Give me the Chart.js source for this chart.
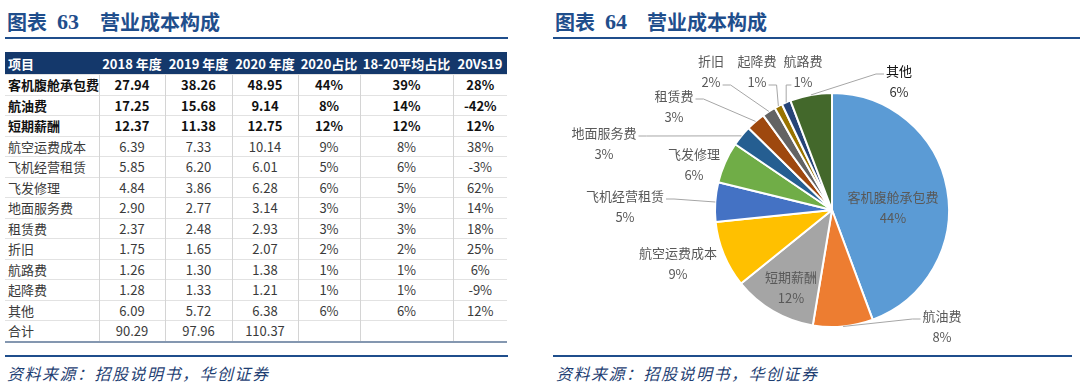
<!DOCTYPE html>
<html lang="zh-CN">
<head>
<meta charset="utf-8">
<title>营业成本构成</title>
<script src="https://cdn.jsdelivr.net/npm/chart.js@4/dist/chart.umd.min.js"></script>
<style>
  html, body { margin: 0; padding: 0; background: #fff; }
  body { width: 1080px; height: 387px; position: relative; overflow: hidden;
         font-family: "Noto Sans CJK SC", "Noto Sans", sans-serif; }
  .t { position: absolute; top: 9px; font-size: 20px; font-weight: bold; color: #1f4e8c;
       line-height: 26px; white-space: nowrap; }
  .t.num { font-family: "Liberation Serif", serif; font-size: 22px; }
  .rule { position: absolute; height: 2px; background: #1f4e8c; }
  .src { position: absolute; top: 361px; font-size: 16px; font-style: italic; color: #1f3f73;
         letter-spacing: 1.5px; line-height: 24px; white-space: nowrap; }
  table { position: absolute; left: 5px; top: 52px; border-collapse: collapse; table-layout: fixed;
          width: 502px; font-size: 13px; }
  th { background: #14386b; color: #fff; font-weight: bold; height: 22px; padding: 0;
       text-align: center; white-space: nowrap; line-height: 1; }
  td { height: 19.5px; padding: 0; text-align: center; color: #3a3a3a; white-space: nowrap;
       border-left: 1px solid #d4d4d4; border-top: 1px solid #e2e2e2; line-height: 1; }
  td:first-child, th:first-child { text-align: left; padding-left: 3px; border-left: none; }
  tr.b td { font-weight: bold; color: #111; }
  tr.last td { border-bottom: 2px solid #8497b0; }
  #pieBox { position: absolute; left: 553px; top: 42px; width: 527px; height: 310px; }
</style>
</head>
<body>

<div class="t" style="left:7px">图表</div>
<div class="t num" style="left:57px">63</div>
<div class="t" style="left:100px">营业成本构成</div>
<div class="rule" style="left:5px; width:503px; top:37px"></div>

<div class="t" style="left:555px">图表</div>
<div class="t num" style="left:605px">64</div>
<div class="t" style="left:647px">营业成本构成</div>
<div class="rule" style="left:553px; width:527px; top:37px"></div>

<table id="costTable"></table>

<div class="rule" style="left:5px; width:503px; top:355px"></div>
<div class="rule" style="left:553px; width:519px; top:355px"></div>
<div class="src" style="left:7px">资料来源：招股说明书，华创证券</div>
<div class="src" style="left:556px">资料来源：招股说明书，华创证券</div>

<div id="pieBox"><canvas id="pie"></canvas></div>

<script>
// ---- 表格数据 -----------------------------------------------------------
const headers   = ['项目', '2018 年度', '2019 年度', '2020 年度', '2020占比', '18-20平均占比', '20Vs19'];
const items     = ['客机腹舱承包费', '航油费', '短期薪酬', '航空运费成本', '飞机经营租赁', '飞发修理',
                   '地面服务费', '租赁费', '折旧', '航路费', '起降费', '其他', '合计'];
const cost2018  = ['27.94', '17.25', '12.37', '6.39', '5.85', '4.84', '2.90', '2.37', '1.75', '1.26', '1.28', '6.09', '90.29'];
const cost2019  = ['38.26', '15.68', '11.38', '7.33', '6.20', '3.86', '2.77', '2.48', '1.65', '1.30', '1.33', '5.72', '97.96'];
const cost2020  = ['48.95', '9.14', '12.75', '10.14', '6.01', '6.28', '3.14', '2.93', '2.07', '1.38', '1.21', '6.38', '110.37'];
const share2020 = ['44%', '8%', '12%', '9%', '5%', '6%', '3%', '3%', '2%', '1%', '1%', '6%', ''];
const shareAvg  = ['39%', '14%', '12%', '8%', '6%', '5%', '3%', '3%', '2%', '1%', '1%', '6%', ''];
const yoy       = ['28%', '-42%', '12%', '38%', '-3%', '62%', '14%', '18%', '25%', '6%', '-9%', '12%', ''];
const boldRows  = 3;

// ---- 饼图数据（2020 年度，顺时针） ---------------------------------------
const pieLabels = ['客机腹舱承包费', '航油费', '短期薪酬', '航空运费成本', '飞机经营租赁', '飞发修理',
                   '地面服务费', '租赁费', '折旧', '起降费', '航路费', '其他'];
const pieValues = [48.95, 9.14, 12.75, 10.14, 6.01, 6.28, 3.14, 2.93, 2.07, 1.21, 1.38, 6.38];
const pieColors = ['#5b9bd5', '#ed7d31', '#a5a5a5', '#ffc000', '#4472c4', '#70ad47',
                   '#255e91', '#9e480e', '#636363', '#997300', '#264478', '#43682b'];

// 标签中心相对圆心的偏移（按半径 117 计），以及引导线挂在哪一行、哪一侧
const labelLayout = [
    { dx:   61, dy:   -2 },
    { dx:  110, dy:  117, line: { row: 'name', side: -1 } },
    { dx:  -41, dy:   78 },
    { dx: -154, dy:   54 },
    { dx: -207, dy:   -3, line: { row: 'name', side:  1 } },
    { dx: -138, dy:  -45 },
    { dx: -228, dy:  -66, line: { row: 'name', side:  1 } },
    { dx: -158, dy: -103, line: { row: 'name', side:  1 } },
    { dx: -121, dy: -138, line: { row: 'pct',  side:  1 } },
    { dx:  -75, dy: -138, line: { row: 'pct',  side:  1 } },
    { dx:  -29, dy: -138, line: { row: 'pct',  side: -1 } },
    { dx:   67, dy: -128, line: { row: 'name', side: -1 }, dark: true }
];

// ---- 表格 ---------------------------------------------------------------
const colWidths = [94, 66, 67, 66, 62, 93, 54];
const table = document.getElementById('costTable');
let html = '<colgroup>' + colWidths.map(w => `<col style="width:${w}px">`).join('') + '</colgroup>';
html += '<tr>' + headers.map(h => `<th>${h}</th>`).join('') + '</tr>';
items.forEach((name, i) => {
    const cls = [i < boldRows ? 'b' : '', i === items.length - 1 ? 'last' : ''].join(' ').trim();
    const cells = [name, cost2018[i], cost2019[i], cost2020[i], share2020[i], shareAvg[i], yoy[i]];
    html += `<tr class="${cls}">` + cells.map(c => `<td>${c}</td>`).join('') + '</tr>';
});
table.innerHTML = html;

// ---- 饼图标签插件 -------------------------------------------------------
const pieLabelPlugin = {
    id: 'pieLabels',
    afterDatasetsDraw(chart) {
        const ctx   = chart.ctx;
        const arcs  = chart.getDatasetMeta(0).data;
        const total = pieValues.reduce((a, b) => a + b, 0);
        ctx.save();
        ctx.font = '13px "Noto Sans CJK SC"';
        ctx.textAlign = 'center';
        ctx.textBaseline = 'middle';
        arcs.forEach((arc, i) => {
            const { x, y, startAngle, endAngle, outerRadius } =
                arc.getProps(['x', 'y', 'startAngle', 'endAngle', 'outerRadius'], true);
            const k   = outerRadius / 117;
            const lay = labelLayout[i];
            const cx  = x + lay.dx * k;
            const cy  = y + lay.dy * k;
            const name = pieLabels[i];
            const pct  = Math.round(pieValues[i] / total * 100) + '%';
            const nameY = cy - 10.5;
            const pctY  = cy + 10.5;

            if (lay.line) {
                const mid = (startAngle + endAngle) / 2;
                const ex  = x + Math.cos(mid) * outerRadius;
                const ey  = y + Math.sin(mid) * outerRadius;
                const txt = lay.line.row === 'name' ? name : pct;
                const w   = ctx.measureText(txt).width;
                const ax  = cx + lay.line.side * (w / 2 + 2);
                const ay  = (lay.line.row === 'name' ? nameY : pctY) + 2.5;
                const bx  = ax + lay.line.side * Math.min(8, Math.abs(ex - ax));
                ctx.strokeStyle = '#a6a6a6';
                ctx.lineWidth = 1;
                ctx.beginPath();
                ctx.moveTo(ax, ay);
                ctx.lineTo(bx, ay);
                ctx.lineTo(ex, ey);
                ctx.stroke();
            }

            ctx.fillStyle = lay.dark ? '#111111' : '#595959';
            ctx.fillText(name, cx, nameY);
            ctx.fillStyle = lay.dark ? '#333333' : '#595959';
            ctx.fillText(pct, cx, pctY);
        });
        ctx.restore();
    }
};

new Chart(document.getElementById('pie').getContext('2d'), {
    type: 'pie',
    data: {
        labels: pieLabels,
        datasets: [{
            data: pieValues,
            backgroundColor: pieColors,
            borderColor: '#ffffff',
            borderWidth: 2
        }]
    },
    options: {
        responsive: true,
        maintainAspectRatio: false,
        animation: false,
        events: [],
        layout: { padding: { left: 161, right: 130, top: 50, bottom: 24 } },
        plugins: {
            legend: { display: false },
            tooltip: { enabled: false }
        }
    },
    plugins: [pieLabelPlugin]
});
</script>
</body>
</html>
